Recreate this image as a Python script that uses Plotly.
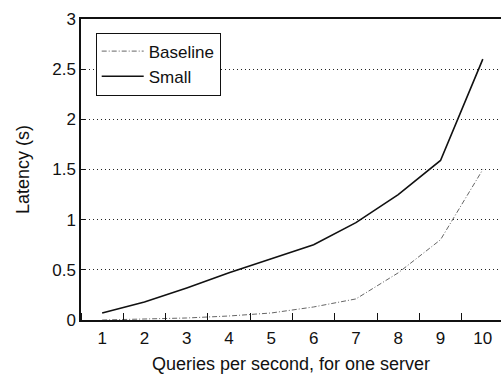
import plotly.graph_objects as go

# Queries per second handled by one server
qps = [1, 2, 3, 4, 5, 6, 7, 8, 9, 10]
# Mean latency in seconds for each configuration
baseline_latency = [0.0, 0.01, 0.02, 0.04, 0.07, 0.13, 0.21, 0.47, 0.8, 1.5]
small_latency = [0.07, 0.18, 0.32, 0.47, 0.61, 0.75, 0.97, 1.25, 1.59, 2.6]
y_ticks = [0, 0.5, 1, 1.5, 2, 2.5, 3]
y_tick_text = ["0", "0.5", "1", "1.5", "2", "2.5", "3"]

font = "Liberation Sans, Arial, Helvetica, sans-serif"

fig = go.Figure()
fig.add_trace(go.Scatter(
    x=qps, y=baseline_latency, mode="lines", name="Baseline",
    line=dict(color="#666666", width=1, dash="5px,2px,1px,2px"),
))
fig.add_trace(go.Scatter(
    x=qps, y=small_latency, mode="lines", name="Small",
    line=dict(color="#111111", width=1.6),
))

fig.update_layout(
    width=501, height=379,
    margin=dict(l=81, r=0, t=19, b=59),
    paper_bgcolor="white", plot_bgcolor="white",
    font=dict(family=font, size=17, color="#111111"),
    showlegend=True,
    legend=dict(
        x=0.035, y=0.955, xanchor="left", yanchor="top",
        bgcolor="white", bordercolor="#111111", borderwidth=1,
        font=dict(size=17), tracegroupgap=0, itemwidth=42,
    ),
    xaxis=dict(
        range=[0.5, 10.43],
        tickvals=qps, ticktext=[str(v) for v in qps],
        ticks="", showgrid=False, zeroline=False, ticklabelstandoff=2,
        showline=True, linecolor="#111111", linewidth=1.5, mirror=True,
        minor=dict(tick0=0.5, dtick=1, ticks="inside", ticklen=7,
                   tickcolor="#111111", showgrid=False),
        title=dict(text="Queries per second, for one server",
                   font=dict(size=18), standoff=10),
        tickfont=dict(size=17),
    ),
    yaxis=dict(
        range=[0, 3],
        tickvals=y_ticks, ticktext=y_tick_text,
        ticks="inside", ticklen=4, tickcolor="#111111",
        showgrid=True, gridcolor="#222222", griddash="1px,3px", gridwidth=1.2,
        zeroline=False,
        showline=True, linecolor="#111111", linewidth=1.5,
        title=dict(text="Latency (s)", font=dict(size=18), standoff=18),
        tickfont=dict(size=17),
    ),
)

fig.write_html("out.html")
